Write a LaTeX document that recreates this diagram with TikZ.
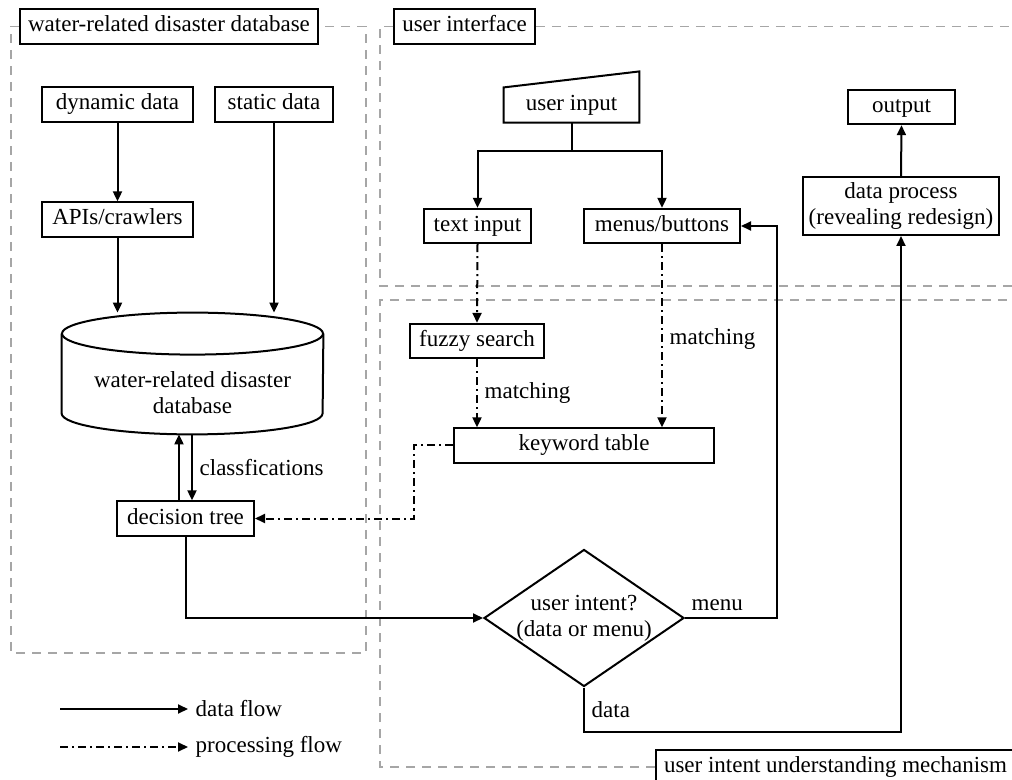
\documentclass[tikz,border=0pt]{standalone}
\usepackage{fontspec}
\setmainfont{Liberation Serif}
\usetikzlibrary{shapes.geometric, arrows.meta, positioning}
\tikzset{
  box/.style={draw, line width=1pt, minimum height=16.5pt, inner xsep=4pt, align=center},
  onebox/.style={box, text height=8pt, text depth=2.5pt},
  titlebox/.style={onebox, fill=white},
  region/.style={draw=black!35, line width=0.75pt, dash pattern=on 4.5pt off 3.5pt},
  dataflow/.style={line width=1pt, -{Triangle[length=5pt,width=4.5pt]}},
  procflow/.style={dataflow, dash pattern=on 4pt off 2pt on 1pt off 2pt},
}
\begin{document}
\begin{tikzpicture}[x=0.5pt,y=-0.5pt,font=\fontsize{11.5}{13}\selectfont]
\useasboundingbox (0,0) rectangle (1012,780);
% regions
\node[titlebox] (dbtitle) at (169,26.5) {water-related disaster database};
\draw[region] (dbtitle.west) -- (11,26.5) -- (11,653) -- (366,653) -- (366,26.5) -- (dbtitle.east);
\node[titlebox] (uititle) at (464.5,26.5) {user interface};
\draw[region] (uititle.west) -- (380,26.5) -- (380,286) -- (1030,286);
\draw[region] (uititle.east) -- (1030,26.5);
\node[titlebox, anchor=north west, minimum height=17pt] (ittitle) at (655,749) {user intent understanding mechanism};
\draw[region] (ittitle.west) -| (380,300) -- (1030,300);
% database side
\node[onebox, minimum width=75.5pt] (dyn) at (117.5,104.5) {dynamic data};
\node[onebox, minimum width=59pt] (stat) at (274,104.5) {static data};
\node[onebox, minimum width=75.5pt] (api) at (117.5,219.5) {APIs/crawlers};
\node[minimum width=130.5pt, minimum height=60.5pt] (db) at (192.5,373.5) {};
\draw[line width=1pt] ([yshift=-10.5pt]db.north) ellipse [x radius=65.25pt, y radius=10.5pt];
\draw[line width=1pt] ([yshift=-10.5pt]db.north west) -- ([yshift=10.5pt]db.south west) arc [start angle=180, end angle=360, x radius=65.25pt, y radius=10.5pt] -- ([yshift=-10.5pt]db.north east);
\node[align=center] (dbtxt) at (192.5,393) {water-related disaster\\database};
\node[onebox, minimum width=68.5pt] (dtree) at (185.5,518.5) {decision tree};
\draw[dataflow] (dyn) -- (api);
\draw[dataflow] (api.south) -- (api.south |- db.north);
\draw[dataflow] (stat.south) -- (stat.south |- db.north);
\draw[dataflow] ([xshift=-3.25pt]dtree.north) -- ([xshift=-3.25pt]dtree.north |- db.south);
\draw[dataflow] ([xshift=3.25pt]dtree.north |- db.south) -- node[right] (cls) {classfications} ([xshift=3.25pt]dtree.north);
% user interface
\node[minimum width=67.5pt, minimum height=17pt, text height=8pt, text depth=2.5pt] (uin) at (571.5,105) {user input};
\draw[line width=1pt] (uin.south west) -- (uin.north west) -- ([yshift=8pt]uin.north east) -- (uin.south east) -- cycle;
\node[onebox, minimum width=53.5pt, minimum height=17pt] (txt) at (477.5,226) {text input};
\node[onebox, minimum width=78pt, minimum height=17pt] (menu) at (662,226) {menus/buttons};
\node[box, minimum width=98pt, minimum height=29pt, inner xsep=2pt, inner ysep=1pt] (dp) at (901,206) {data process\\(revealing redesign)};
\node[onebox, minimum width=53.5pt, minimum height=16pt] (out) at (901.5,107) {output};
\draw[dataflow] (uin.south) -- ++(0,28) -| (txt.north);
\draw[dataflow] (uin.south) -- ++(0,28) -| (menu.north);
\draw[dataflow] (dp.north) -- (out.south);
% intent understanding
\node[onebox, minimum width=67pt, minimum height=17pt] (fuzzy) at (477,341) {fuzzy search};
\node[onebox, minimum width=130pt] (kw) at (584,445.5) {keyword table};
\node[draw, line width=1pt, diamond, inner sep=0pt, minimum width=100pt, minimum height=68.5pt] (intent) at (584,618) {};
\node[align=center] (intenttxt) at (intent) {user intent?\\(data or menu)};
\draw[procflow] (txt.south) -- (fuzzy.north);
\draw[procflow] (fuzzy.south) -- node[right] (match1) {matching} (fuzzy.south |- kw.north);
\draw[procflow] (menu.south) -- node[right, pos=0.52] (match2) {matching} (menu.south |- kw.north);
\draw[procflow] (kw.west) -- ++(-39,0) |- (dtree.east);
\draw[dataflow] (dtree.south) |- (intent.west);
\draw[dataflow] (intent.east) -- node[above, pos=0.35] (menulbl) {menu} ++(92,0) |- (menu.east);
\draw[dataflow] (intent.south) -- node[right] (datalbl) {data} ++(0,44.5) -| (dp.south);
% legend
\coordinate (lg1) at (60,709);
\coordinate (lg2) at (60,747);
\draw[dataflow] (lg1) -- ++(128,0) node[right] (lgdata) {data flow};
\draw[procflow] (lg2) -- ++(128,0) node[right] (lgproc) {processing flow};
\end{tikzpicture}
\end{document}
